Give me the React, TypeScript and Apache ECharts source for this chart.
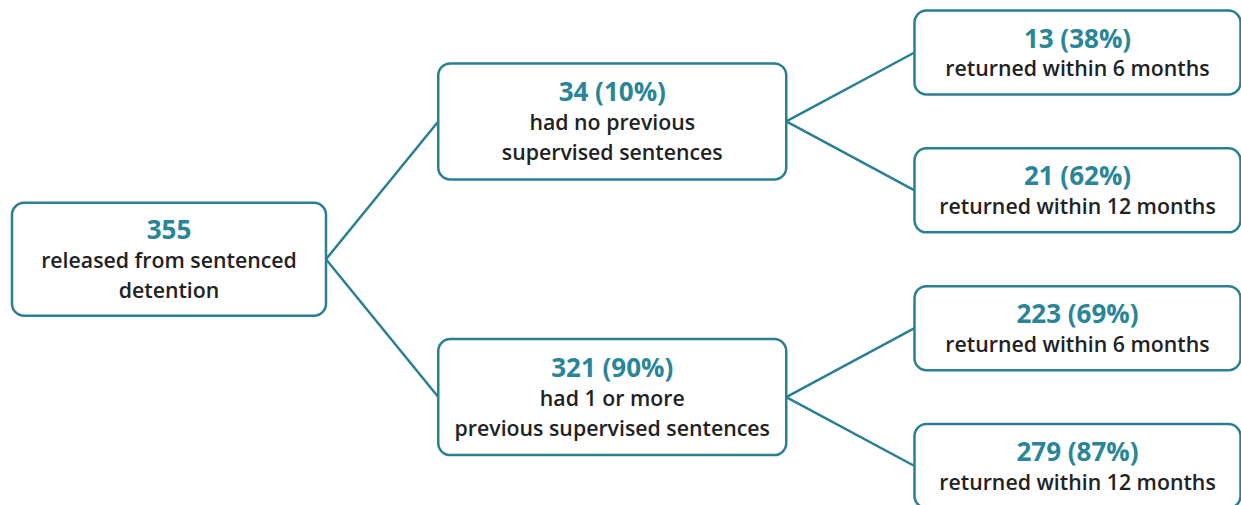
import React, { useEffect, useRef } from "react";
import * as echarts from "echarts";

// ---- data ----
const nodeCounts = [355, 34, 321, 13, 21, 223, 279];
const nodePercents: (number | null)[] = [null, 10, 90, 38, 62, 69, 87];
const nodeLabels = [
  ["released from sentenced", "detention"],
  ["had no previous", "supervised sentences"],
  ["had 1 or more", "previous supervised sentences"],
  ["returned within 6 months"],
  ["returned within 12 months"],
  ["returned within 6 months"],
  ["returned within 12 months"],
];
const nodeParents = [-1, 0, 0, 1, 1, 2, 2];

// ---- styles ----
const TEAL_LINE = "#2a7f93";
const TEAL_TEXT = "#2a8598";
const DARK = "#222222";
const FONT = "'Open Sans', 'Noto Sans', sans-serif";
const LEVEL_BOX = [
  { w: 314, h: 113, dx: 0 },
  { w: 348, h: 116, dx: -11 },
  { w: 326, h: 84, dx: 0 },
];
const LINE_H = 30;

// ---- structure (derived) ----
const n = nodeCounts.length;
const children: number[][] = nodeCounts.map(() => []);
nodeParents.forEach((p, i) => {
  if (p >= 0) children[p].push(i);
});
const level: number[] = new Array(n).fill(0);
for (let i = 0; i < n; i++) {
  let d = 0;
  let p = nodeParents[i];
  while (p >= 0) {
    d++;
    p = nodeParents[p];
  }
  level[i] = d;
}
const row: number[] = new Array(n).fill(0);
let leafCounter = 0;
function assignRows(i: number): number {
  if (children[i].length === 0) {
    row[i] = leafCounter++;
  } else {
    const rs = children[i].map(assignRows);
    row[i] = rs.reduce((a, b) => a + b, 0) / rs.length;
  }
  return row[i];
}
assignRows(0);
const maxRow = leafCounter - 1;
const maxLevel = Math.max(...level);

const nodeData = nodeCounts.map((_, i) => [level[i], row[i], i]);
const linkData = nodeParents
  .map((p, i) => (p >= 0 ? [level[p], row[p], level[i], row[i]] : null))
  .filter((d) => d !== null) as number[][];

export default function App() {
  const ref = useRef<HTMLDivElement>(null);
  useEffect(() => {
    if (!ref.current) return;
    const chart = echarts.init(ref.current, undefined, { renderer: "svg" });
    chart.setOption({
      animation: false,
      backgroundColor: "#ffffff",
      grid: { left: 169, right: 163.5, top: 52.5, bottom: 39 },
      xAxis: { type: "value", min: 0, max: maxLevel, show: false },
      yAxis: { type: "value", min: 0, max: maxRow, inverse: true, show: false },
      series: [
        {
          type: "custom",
          coordinateSystem: "cartesian2d",
          clip: false,
          silent: true,
          z: 1,
          data: linkData,
          renderItem: (params: any, api: any) => {
            const pl = api.value(0);
            const c1 = api.coord([pl, api.value(1)]);
            const cl = api.value(2);
            const c2 = api.coord([cl, api.value(3)]);
            return {
              type: "line",
              shape: {
                x1: c1[0] + LEVEL_BOX[pl].dx + LEVEL_BOX[pl].w / 2,
                y1: c1[1],
                x2: c2[0] + LEVEL_BOX[cl].dx - LEVEL_BOX[cl].w / 2,
                y2: c2[1],
              },
              style: { stroke: TEAL_LINE, lineWidth: 2.5 },
            };
          },
        },
        {
          type: "custom",
          coordinateSystem: "cartesian2d",
          clip: false,
          silent: true,
          z: 2,
          data: nodeData,
          renderItem: (params: any, api: any) => {
            const lv = api.value(0);
            const idx = api.value(2);
            const c = api.coord([lv, api.value(1)]);
            const box = LEVEL_BOX[lv];
            const pct = nodePercents[idx];
            const head = pct === null ? `${nodeCounts[idx]}` : `${nodeCounts[idx]} (${pct}%)`;
            const lines = [head, ...nodeLabels[idx]];
            const nl = lines.length;
            const texts = lines.map((t, k) => ({
              type: "text",
              style: {
                text: t,
                x: 0,
                y: (k - (nl - 1) / 2) * LINE_H,
                align: "center",
                verticalAlign: "middle",
                fill: k === 0 ? TEAL_TEXT : DARK,
                fontFamily: FONT,
                fontSize: k === 0 ? 26 : 21.3,
                fontWeight: k === 0 ? 700 : 600,
              },
            }));
            return {
              type: "group",
              x: c[0] + box.dx,
              y: c[1],
              children: [
                {
                  type: "rect",
                  shape: { x: -box.w / 2, y: -box.h / 2, width: box.w, height: box.h, r: 12 },
                  style: { fill: "#ffffff", stroke: TEAL_LINE, lineWidth: 2.5 },
                },
                ...texts,
              ],
            };
          },
        },
      ],
    });
    return () => chart.dispose();
  }, []);
  return (
    <div
      ref={ref}
      style={{ position: "fixed", left: 0, top: 0, width: 1241, height: 505 }}
    />
  );
}
